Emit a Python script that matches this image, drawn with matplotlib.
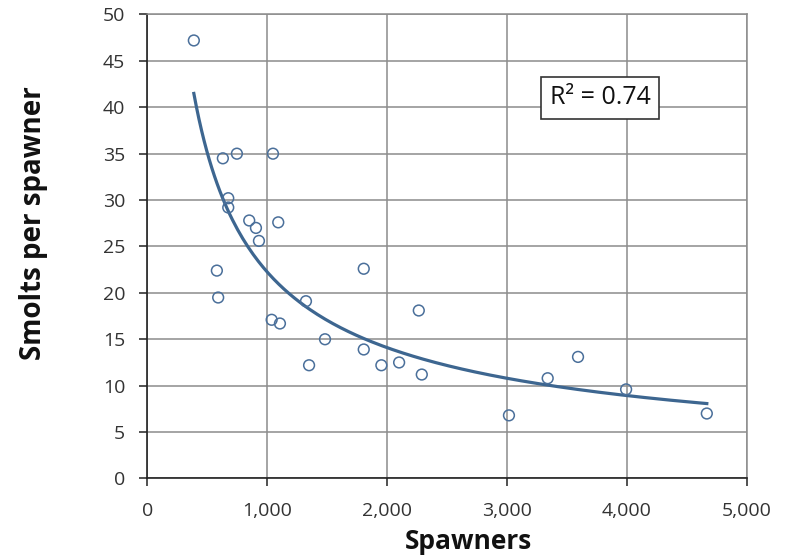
import matplotlib

matplotlib.use("Agg")
import matplotlib.pyplot as plt
import numpy as np
from matplotlib.ticker import FuncFormatter, MultipleLocator

# values
spawners = [388, 630, 747, 1048, 675, 675, 850, 906, 931, 1092,
            580, 591, 1037, 1106, 1323, 1349, 1482, 1805, 1805, 1952,
            2100, 2264, 2289, 3016, 3339, 3592, 3993, 4666]
smolts_per_spawner = [47.2, 34.5, 35.0, 35.0, 30.2, 29.2, 27.8, 27.0, 25.6, 27.6,
                      22.4, 19.5, 17.1, 16.7, 19.1, 12.2, 15.0, 22.6, 13.9, 12.2,
                      12.5, 18.1, 11.2, 6.8, 10.8, 13.1, 9.6, 7.0]
r_squared_label = "R² = 0.74"

plt.rcParams["font.family"] = ["Open Sans", "DejaVu Sans"]

x = np.array(spawners, dtype=float)
y = np.array(smolts_per_spawner, dtype=float)

# power trendline y = a * x^b, fitted in log space
b, log_a = np.polyfit(np.log(x), np.log(y), 1)
x_fit = np.linspace(x.min(), x.max(), 200)
y_fit = np.exp(log_a) * x_fit ** b

figure = plt.figure(figsize=(7.92, 5.57), dpi=100)
axis = figure.add_axes([0.186, 0.141, 0.757, 0.833])

axis.scatter(x, y, s=60, facecolors="none", edgecolors="#4a6f9a", linewidths=1.1, zorder=3)
axis.plot(x_fit, y_fit, color="#3d6690", linewidth=2.3, zorder=2)

axis.set_xlim(0, 5000)
axis.set_ylim(0, 50)
axis.xaxis.set_major_locator(MultipleLocator(1000))
axis.yaxis.set_major_locator(MultipleLocator(5))
axis.xaxis.set_major_formatter(FuncFormatter(lambda v, _: f"{int(v):,}"))

axis.grid(True, color="#8c8c8c", linewidth=1.1)
axis.set_axisbelow(True)
for side in ("top", "right"):
    axis.spines[side].set_color("#8c8c8c")
    axis.spines[side].set_linewidth(1.1)
for side in ("left", "bottom"):
    axis.spines[side].set_color("#222222")
    axis.spines[side].set_linewidth(1.2)

axis.tick_params(axis="both", direction="out", length=6, width=1.1, color="#222222",
                 labelsize=14, labelcolor="#333333")
axis.tick_params(axis="x", pad=11)
axis.tick_params(axis="y", pad=10)

axis.set_xlabel("Spawners", fontsize=19, fontweight="bold", color="#111111")
axis.set_ylabel("Smolts per spawner", fontsize=20, fontweight="bold", color="#111111")
axis.xaxis.set_label_coords(0.536, -0.106)
axis.yaxis.set_label_coords(-0.166, 0.55)

axis.text(0.755, 0.82, r_squared_label, transform=axis.transAxes, fontsize=18,
          ha="center", va="center", color="#111111",
          bbox={"boxstyle": "square,pad=0.35", "facecolor": "white",
                "edgecolor": "#333333", "linewidth": 1.2})

figure.savefig("out.png", dpi=100)
plt.close(figure)
